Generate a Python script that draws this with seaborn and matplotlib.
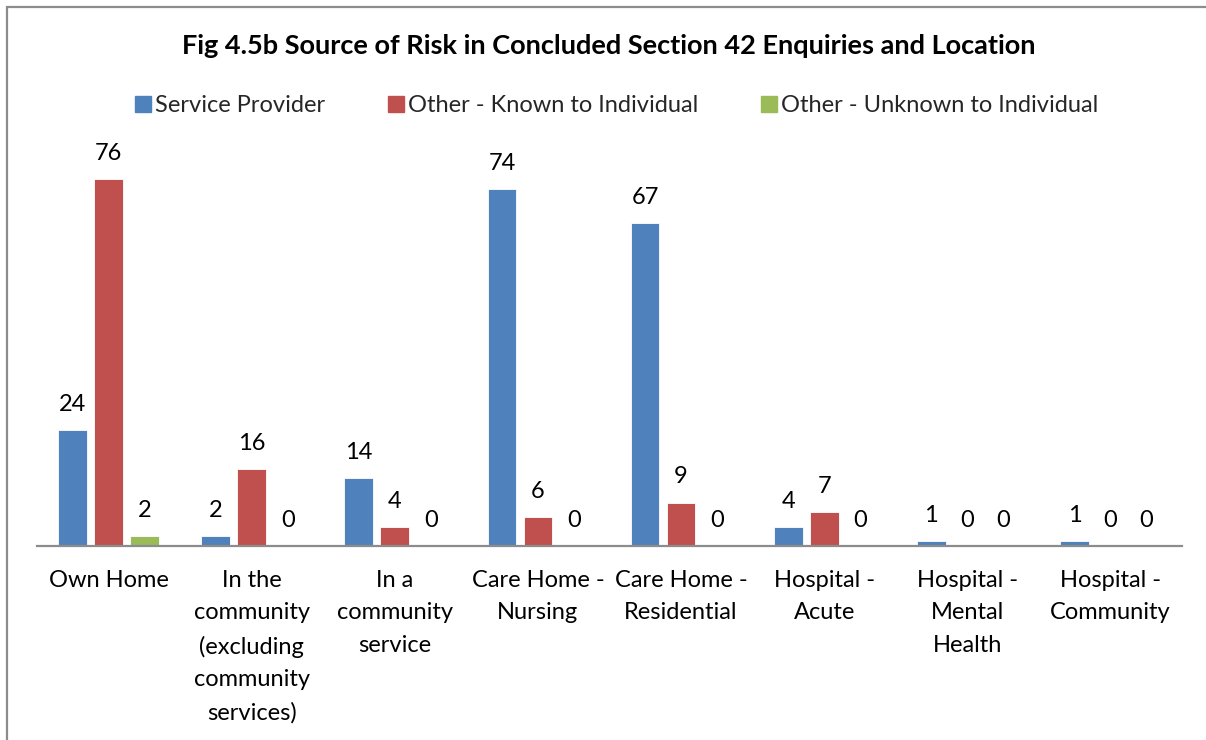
import matplotlib
matplotlib.use("Agg")
import matplotlib.pyplot as plt
import matplotlib.patches as mpatches
from matplotlib.lines import Line2D
import seaborn as sns
import pandas as pd

categories = ["Own Home",
              "In the\ncommunity\n(excluding\ncommunity\nservices)",
              "In a\ncommunity\nservice",
              "Care Home -\nNursing",
              "Care Home -\nResidential",
              "Hospital -\nAcute",
              "Hospital -\nMental\nHealth",
              "Hospital -\nCommunity"]
series = ["Service Provider", "Other - Known to Individual", "Other - Unknown to Individual"]
service_provider = [24, 2, 14, 74, 67, 4, 1, 1]
known = [76, 16, 4, 6, 9, 7, 0, 0]
unknown = [2, 0, 0, 0, 0, 0, 0, 0]
colors = ["#4F81BD", "#C0504D", "#9BBB59"]
title = "Fig 4.5b Source of Risk in Concluded Section 42 Enquiries and Location"

rows = []
for s, vals in zip(series, [service_provider, known, unknown]):
    for c, v in zip(categories, vals):
        rows.append({"Location": c, "Source": s, "Count": v})
df = pd.DataFrame(rows)

sns.set_theme(style="white")
plt.rcParams["font.family"] = ["Lato", "DejaVu Sans"]

W, H = 1206, 740
fig = plt.figure(figsize=(W / 100, H / 100), dpi=100)
ax = fig.add_axes([37 / W, (H - 546) / H, (1182 - 37) / W, (546 - 160) / H])

sns.barplot(data=df, x="Location", y="Count", hue="Source", order=categories,
            hue_order=series, palette=colors, width=0.755, gap=0.2,
            saturation=1, ax=ax, legend=False, edgecolor="white", linewidth=0.6)

ax.set_ylim(0, 80)
ax.set_xlim(-0.5, len(categories) - 0.5)
ax.set_xlabel("")
ax.set_ylabel("")
ax.set_yticks([])
for sp in ["top", "right", "left"]:
    ax.spines[sp].set_visible(False)
ax.spines["bottom"].set_color("#8C8C8C")
ax.spines["bottom"].set_linewidth(1.6)
ax.tick_params(axis="x", length=0, pad=17, labelsize=17, colors="black")
for lbl in ax.get_xticklabels():
    lbl.set_linespacing(1.68)
    lbl.set_verticalalignment("top")

for cont in ax.containers:
    for bar in cont:
        h = bar.get_height()
        ax.annotate(f"{int(round(h))}", (bar.get_x() + bar.get_width() / 2, h),
                    xytext=(0, 18.5), textcoords="offset points",
                    ha="center", va="center", fontsize=17, color="black",
                    annotation_clip=False)

fig.text(609 / W, 1 - 46 / H, title, ha="center", va="center",
         fontsize=19.5, fontweight="bold", color="black")

handles = [Line2D([0], [0], marker="s", linestyle="none", markersize=11,
                  markerfacecolor=c, markeredgecolor=c) for c in colors]
fig.legend(handles, series, loc="center", bbox_to_anchor=(616 / W, 1 - 106 / H),
           ncol=3, frameon=False, fontsize=17, handletextpad=0.1,
           columnspacing=2.6, handlelength=0.8)

fig.patches.append(mpatches.Rectangle((7 / W, -0.05), 1.1, 1 - 7 / H + 0.05,
                                      transform=fig.transFigure, fill=False,
                                      edgecolor="#8C8C8C", linewidth=1.6))

fig.savefig("out.png", dpi=100)
